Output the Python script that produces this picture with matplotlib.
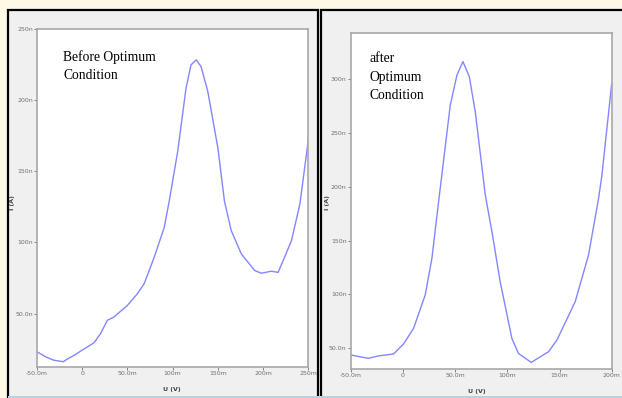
import matplotlib.pyplot as plt
from matplotlib.patches import Rectangle

# I-V curves (U in mV, I in nA)
left_u = [-50, -40, -31.5, -21, -16.7, -8, 0, 13, 20.3, 27.8, 35, 50, 61, 68.5, 79.6, 90.7, 96.2,
          105.6, 114.8, 120.3, 126, 131.4, 138.9, 150, 157.3, 164.8, 175.9, 190.7, 198, 209.2,
          216.6, 222.2, 231.4, 240.7, 250]
left_i = [23.2, 19.5, 17.3, 16.2, 18, 21, 24.4, 29.5, 36, 45.3, 47.6, 55.8, 64, 71, 89.6, 110.6, 129,
          164, 208.5, 224.8, 228.3, 223.6, 206, 166.5, 129, 108.3, 92, 80.3, 78.4, 79.8,
          79, 87.3, 101.3, 127, 172]

right_u = [-50, -33.1, -23.6, -9, 0.6, 10.2, 21.4, 27.8, 34.2, 45.4, 51.8, 57.5, 63.6, 69.3, 78.9,
           85.3, 93.2, 104.4, 110.7, 122.9, 139.5, 147.5, 165, 177.8, 187.4, 190.6, 200]
right_i = [43.8, 40.7, 42.9, 44.7, 54, 68.5, 99.6, 133.6, 186.2, 275.9, 303.7, 316.1, 302.2, 269.7, 192.4,
           158.1, 111.7, 59.1, 45.2, 36.9, 46.8, 57.6, 93.2, 136.5, 189, 210.6, 295.6]

left_yticks = [50, 100, 150, 200, 250]
left_ylabels = ['50.0n', '100n', '150n', '200n', '250n']
left_xticks = [-50, 0, 50, 100, 150, 200, 250]
left_xlabels = ['-50.0m', '0', '50.0m', '100m', '150m', '200m', '250m']

right_yticks = [50, 100, 150, 200, 250, 300]
right_ylabels = ['50.0n', '100n', '150n', '200n', '250n', '300n']
right_xticks = [-50, 0, 50, 100, 150, 200]
right_xlabels = ['-50.0m', '0', '50.0m', '100m', '150m', '200m']

W, H = 622, 398
fig = plt.figure(figsize=(W / 100, H / 100), dpi=100)
fig.patch.set_facecolor('#fdf9e6')

# grey panels with black frames (behind the axes)
fig.add_artist(Rectangle((8 / W, 0), 310 / W, 388 / H, transform=fig.transFigure,
                         facecolor='#f0f0f0', edgecolor='black', linewidth=1.6, zorder=-5))
fig.add_artist(Rectangle((321 / W, 0), 310 / W, 388 / H, transform=fig.transFigure,
                         facecolor='#f0f0f0', edgecolor='black', linewidth=1.6, zorder=-5))
fig.add_artist(Rectangle((8 / W, 0), 614 / W, 2 / H, transform=fig.transFigure,
                         facecolor='#b9d1e0', edgecolor='none', zorder=-4))


def panel(rect, u, i, xt, xl, yt, yl, xlim, ylim, text, text_xy, ylab_x, xlab_xy):
    ax = fig.add_axes(rect)
    ax.plot(u, i, color='#8585ff', linewidth=1.0)
    ax.set_xlim(*xlim)
    ax.set_ylim(*ylim)
    ax.set_xticks(xt)
    ax.set_xticklabels(xl)
    ax.set_yticks(yt)
    ax.set_yticklabels(yl)
    ax.tick_params(labelsize=4.5, colors='#707070', length=2, width=0.6, pad=1)
    for s in ax.spines.values():
        s.set_color('#a8a8a8')
        s.set_linewidth(1.2)
    ax.text(text_xy[0], text_xy[1], text, transform=fig.transFigure, family='Liberation Serif',
            fontsize=9.8, va='top', linespacing=1.55)
    fig.text(ylab_x, 195 / H, 'I (A)', rotation=90, fontsize=4.5, ha='center', va='center',
             fontweight='bold', color='#404040')
    fig.text(xlab_xy[0], xlab_xy[1], 'U (V)', fontsize=4.5, ha='center', va='center',
             fontweight='bold', color='#404040')
    return ax


panel([37 / W, (H - 367) / H, (308.3 - 37) / W, (367 - 29) / H],
      left_u, left_i, left_xticks, left_xlabels, left_yticks, left_ylabels,
      (-50, 250), (12.5, 249), 'Before Optimum\nCondition', (63 / W, (H - 50) / H),
      12 / W, (172 / W, 8 / H))

panel([350.7 / W, (H - 369.3) / H, (611.7 - 350.7) / W, (369.3 - 33.3) / H],
      right_u, right_i, right_xticks, right_xlabels, right_yticks, right_ylabels,
      (-50, 200), (30.5, 342.4), 'after\nOptimum\nCondition', (369 / W, (H - 52) / H),
      327 / W, (477 / W, 6 / H))

fig.savefig('out.png', dpi=100, facecolor=fig.get_facecolor())
